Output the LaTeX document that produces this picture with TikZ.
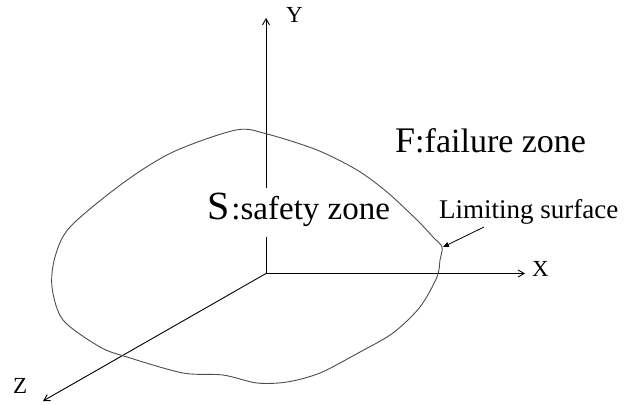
\documentclass[tikz,border=0pt]{standalone}
\usepackage{fontspec}
\setmainfont{Liberation Serif}
\usetikzlibrary{arrows.meta}

\begin{document}
\begin{tikzpicture}[x=1pt, y=-1pt,
    axis/.style={-{Straight Barb[length=6pt, width=7pt]}, line width=0.9pt},
    lbl/.style={anchor=base west, inner sep=0pt, font=\fontsize{23}{24}\selectfont},
    zone/.style={anchor=base west, inner sep=0pt},
    bound/.style={line width=0.9pt, black!70},
    >=Stealth
  ]
  \useasboundingbox (0,0) rectangle (628,404);

  % axes
  \coordinate (O) at (266,273.5);
  \coordinate (ytip) at (266,18);
  \coordinate (xtip) at (525,273.5);
  \coordinate (ztip) at (43,401);
  \draw[axis] (O) -- (ytip);
  \draw[axis] (O) -- (xtip);
  \draw[axis] (O) -- (ztip);
  \node[lbl] (ylab) at (286,23) {Y};
  \node[lbl] (xlab) at (532,276) {X};
  \node[lbl] (zlab) at (13,393) {Z};

  \node[zone, fill=white, inner xsep=1pt, inner ysep=5pt, text depth=13pt] (safe) at (206,219)
    {{\fontsize{40}{40}\selectfont S}\kern2pt{\fontsize{33}{33}\selectfont :safety zone}};
  \node[zone] (fail) at (395,152)
    {{\fontsize{36}{36}\selectfont F}{\fontsize{34}{34}\selectfont :failure zone}};
  \node[zone, font=\fontsize{27}{27}\selectfont] (limit) at (439,218) {Limiting surface};

  % limiting surface
  \draw[bound] plot[smooth cycle, tension=0.5] coordinates {
    (236,130) (267,134) (317,150) (357,170) (387,192) (417,220) (433,237)
    (442,247) (440,260) (437,277) (420,307) (393,333) (360,352) (320,373)
    (287,382) (257,383) (223,375) (183,373) (127,357) (100,347) (63,320)
    (52,287) (55,257) (70,227) (123,183) (173,152)};

  \coordinate (lstail) at (484,227);
  \coordinate (lsfoot) at (443,247);
  \draw[-{Triangle[length=6pt, width=5pt]}, line width=0.8pt] (lstail) -- (lsfoot);

\end{tikzpicture}
\end{document}
